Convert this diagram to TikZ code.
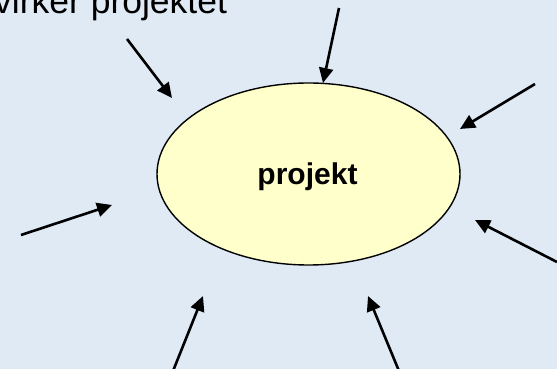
\documentclass[tikz,border=0pt]{standalone}
\usepackage{fontspec}
\setmainfont{Liberation Sans}
\usetikzlibrary{arrows.meta,shapes.geometric}
\definecolor{bgblue}{RGB}{223,234,245}
\definecolor{ellfill}{RGB}{255,255,204}
\tikzset{
  inarrow/.style={line width=2.6pt, -{Triangle[length=15pt,width=14pt]}},
  centre/.style={ellipse, draw=black, line width=1.4pt, fill=ellfill, minimum width=303pt, minimum height=182pt, inner sep=0pt}
}
\begin{document}
\begin{tikzpicture}[x=1pt,y=1pt]
\clip (0,0) rectangle (557,369);
\fill[bgblue] (0,0) rectangle (557,369);
\node[centre] (p) at (308.5,195) {};
\node[anchor=base, font=\fontsize{30}{36}\selectfont\bfseries] (plabel) at (307.5,184) {projekt};
\node[anchor=base west, inner sep=0pt, font=\fontsize{35.5}{42}\selectfont] (top) at (-6,355) {virker projektet};
\coordinate (s1) at (127,330); \coordinate (e1) at (172,271);
\coordinate (s2) at (339,361); \coordinate (e2) at (323,286);
\coordinate (s3) at (535,285); \coordinate (e3) at (460,240);
\coordinate (s4) at (21,134);  \coordinate (e4) at (112,164);
\coordinate (s5) at (557,107); \coordinate (e5) at (475,149);
\coordinate (s6) at (173,-2);  \coordinate (e6) at (203,73);
\coordinate (s7) at (399,-2);  \coordinate (e7) at (368,73);
\foreach \i in {1,...,7}{\draw[inarrow] (s\i) -- (e\i);}
\end{tikzpicture}
\end{document}
